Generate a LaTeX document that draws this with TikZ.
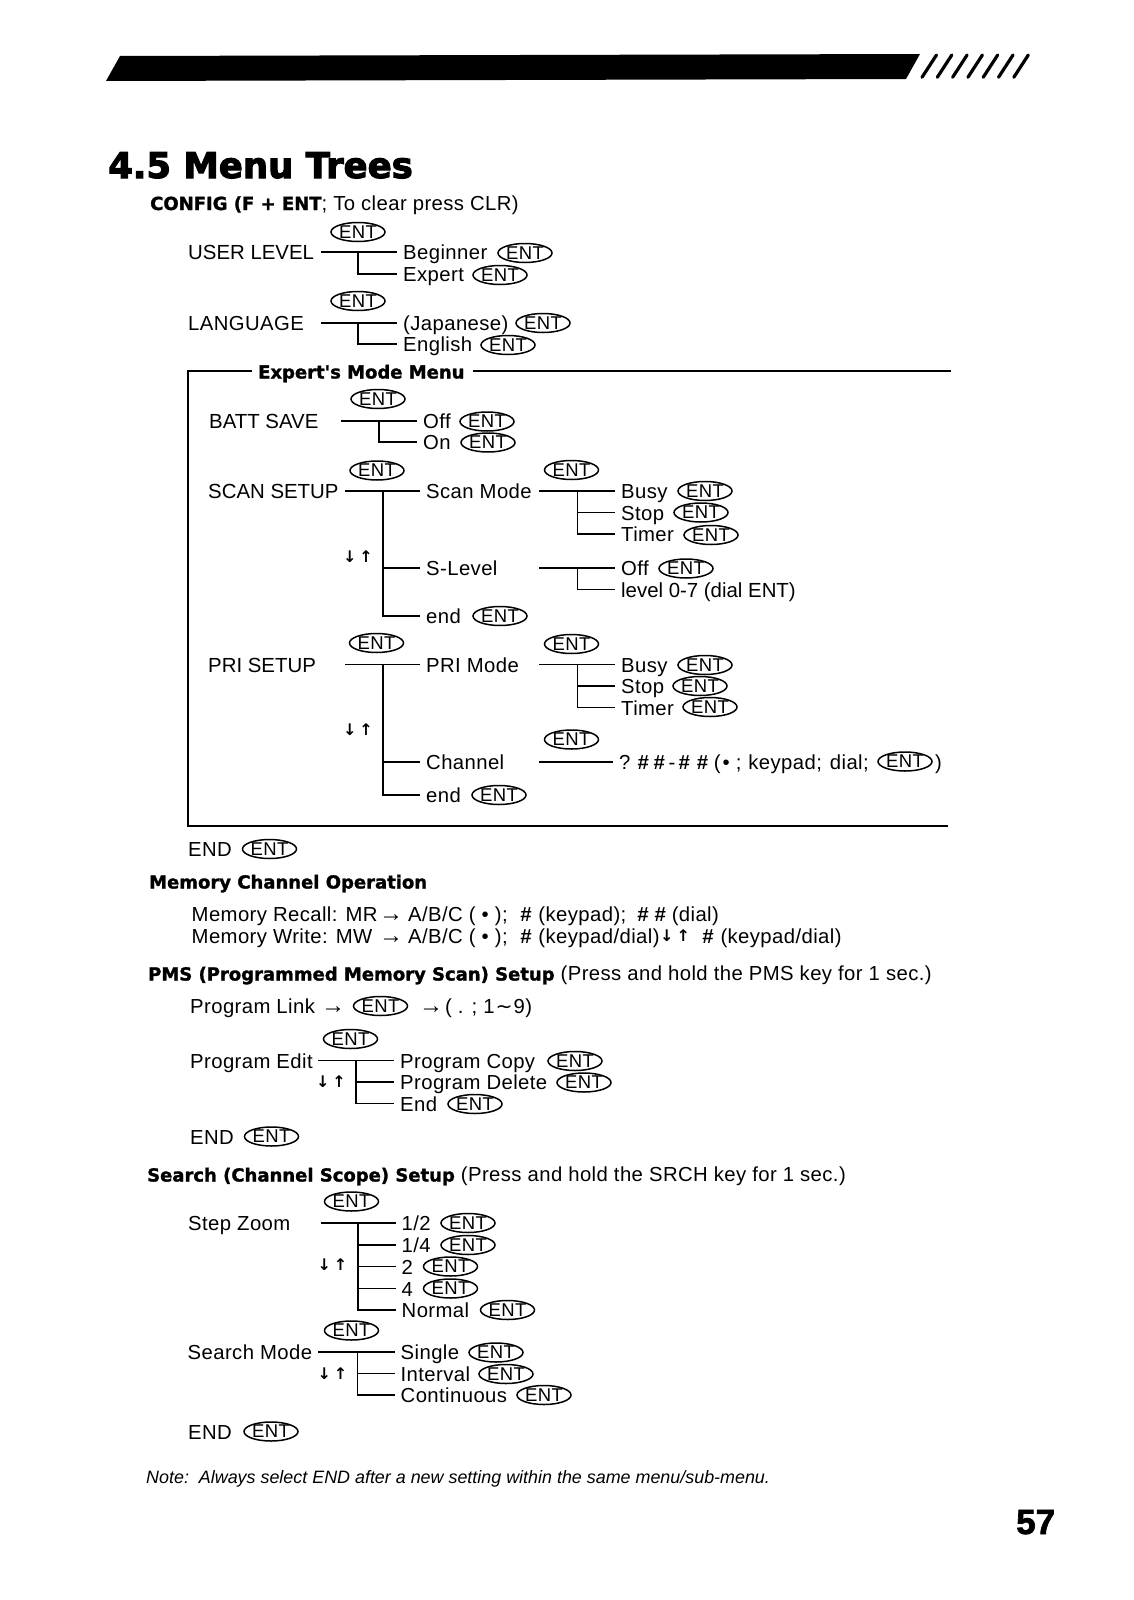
\documentclass[tikz,border=0pt]{standalone}
\usepackage{fontspec}
\usetikzlibrary{shapes.geometric}
\setmainfont{Liberation Sans}[LetterSpace=2]
\newfontfamily\headfamily{DejaVu Sans}
\newfontfamily\heavyfamily{DejaVu Sans Bold}[FakeBold=1.5]
\newfontfamily\titlefamily{DejaVu Sans Bold}[FakeBold=3]
\newfontfamily\pagefamily{Liberation Sans Bold}[FakeBold=2]
\newfontfamily\plainfamily{Liberation Sans}
\newcommand{\headbold}{\heavyfamily\fontsize{18}{22}\selectfont}
\newcommand{\hashkey}{{\bfseries\itshape\#}}
\newcommand{\rarrow}{{\fontsize{24}{24}\selectfont →}}

\begin{document}
\begin{tikzpicture}[x=1pt,y=-1pt,
		menutext/.style={anchor=west,inner sep=0pt,text height=15pt,text depth=0pt,font=\fontsize{20.3}{24}\selectfont},
		plaintext/.style={menutext,font=\plainfamily\fontsize{20.4}{24}\selectfont},
		entkey/.style={draw,ellipse,line width=1.5pt,inner sep=0pt,minimum width=54pt,minimum height=19pt,font=\fontsize{18.5}{20}\selectfont},
		treeline/.style={line width=1.5pt,shorten >=6pt},
		frameline/.style={line width=1.4pt},
		slashline/.style={line width=3.2pt,line cap=round},
		updown/.style={inner sep=0pt,font=\headfamily\bfseries\fontsize{16}{16}\selectfont},
	]
		\useasboundingbox (0,0) rectangle (1133,1600);
		% top band
		\fill (106,81) -- (120,56) -- (920,54) -- (906,79) -- cycle;
		\foreach \i in {0,...,6}
			\draw[slashline] ({922+15.3*\i},77.3) -- ({936.5+15.3*\i},55);
		\node[anchor=base west,inner sep=0pt,font=\titlefamily\fontsize{35.5}{40}\selectfont] (title) at (108,178) {4.5 Menu Trees};
		\node[anchor=base west,inner sep=0pt,font=\pagefamily\fontsize{35}{40}\selectfont] (pagenum) at (1016,1534) {57};

		% config
		\node[menutext] (confighead) at (150,202.5) {{\headbold CONFIG (F + ENT}; To clear press CLR)};
		\node[entkey] (entuser) at (358,232) {ENT};
		\node[plaintext] (userlevel) at (188,252) {USER LEVEL};
		\node[menutext] (beginner) at (403,252) {Beginner};
		\node[entkey] (entbeginner) at (525,253) {ENT};
		\node[menutext] (expert) at (403,274) {Expert};
		\node[entkey] (entexpert) at (500,275) {ENT};
		\coordinate (userjoint) at (358,252);
		\draw[treeline] ([xshift=133pt]userlevel.west) -- (beginner.west);
		\draw[treeline] (userjoint) |- (expert.west);

		\node[entkey] (entlang) at (358,301) {ENT};
		\node[menutext] (language) at (188,323) {LANGUAGE};
		\node[menutext] (japanese) at (403,323) {(Japanese)};
		\node[entkey] (entjapanese) at (543,323) {ENT};
		\node[menutext] (english) at (403,344) {English};
		\node[entkey] (entenglish) at (508,345) {ENT};
		\coordinate (langjoint) at (358,323);
		\draw[treeline] ([xshift=133pt]language.west) -- (japanese.west);
		\draw[treeline] (langjoint) |- (english.west);

		% frame of the expert menu
		\node[menutext,font=\headbold] (modehead) at (258,371) {Expert's Mode Menu};
		\coordinate (frameNW) at (188,371);
		\coordinate (frameSW) at (188,826);
		\coordinate (frameSE) at (948,826);
		\coordinate (frameNE) at (951,371);
		\draw[frameline,shorten <=6pt] (modehead.west) -- (frameNW) -- (frameSW) -- (frameSE);
		\draw[frameline,shorten <=8pt] (modehead.east) -- (frameNE);

		% batt save
		\node[entkey] (entbatt) at (378,399) {ENT};
		\node[plaintext] (battsave) at (209,421) {BATT SAVE};
		\node[menutext] (battoff) at (423,421) {Off};
		\node[entkey] (entbattoff) at (487,421.5) {ENT};
		\node[menutext] (batton) at (423,442) {On};
		\node[entkey] (entbatton) at (488,442.5) {ENT};
		\coordinate (battjoint) at (379,421);
		\draw[treeline] ([xshift=132pt]battsave.west) -- (battoff.west);
		\draw[treeline] (battjoint) |- (batton.west);

		% scan setup
		\node[entkey] (entscan) at (377,470.5) {ENT};
		\node[plaintext] (scansetup) at (208,491) {SCAN SETUP};
		\node[menutext] (scanmode) at (426,491) {Scan Mode};
		\node[menutext] (slevel) at (426,568) {S-Level};
		\node[menutext] (scanend) at (426,616) {end};
		\node[entkey] (entscanend) at (500,616) {ENT};
		\node[updown] (scanarrows) at (358,556.5) {↓\hspace{3pt}↑};
		\coordinate (scanjoint) at (383,491);
		\draw[treeline] ([xshift=137pt]scansetup.west) -- (scanmode.west);
		\draw[treeline] (scanjoint) |- (slevel.west);
		\draw[treeline] (scanjoint) |- (scanend.west);

		\node[entkey] (entscanmode) at (571.5,470) {ENT};
		\node[menutext] (scanbusy) at (621,491) {Busy};
		\node[entkey] (entscanbusy) at (705,491) {ENT};
		\node[menutext] (scanstop) at (621,512.5) {Stop};
		\node[entkey] (entscanstop) at (701,512.5) {ENT};
		\node[menutext] (scantimer) at (621,534) {Timer};
		\node[entkey] (entscantimer) at (711,535) {ENT};
		\coordinate (modejoint) at (577.5,491);
		\draw[treeline] ([xshift=113pt]scanmode.west) -- (scanbusy.west);
		\draw[treeline] (modejoint) |- (scanstop.west);
		\draw[treeline] (modejoint) |- (scantimer.west);

		\node[menutext] (leveloff) at (621,568) {Off};
		\node[entkey] (entleveloff) at (686,568.5) {ENT};
		\node[plaintext] (levelrange) at (621,589.5) {level 0-7 (dial ENT)};
		\coordinate (leveljoint) at (577.5,568);
		\draw[treeline] ([xshift=113pt]slevel.west) -- (leveloff.west);
		\draw[treeline] (leveljoint) |- (levelrange.west);

		% pri setup
		\node[entkey] (entpri) at (376.5,643) {ENT};
		\node[plaintext] (prisetup) at (208,664.5) {PRI SETUP};
		\node[menutext] (primode) at (426,664.5) {PRI Mode};
		\node[menutext] (channel) at (426,762) {Channel};
		\node[menutext] (priend) at (426,795) {end};
		\node[entkey] (entpriend) at (499,795) {ENT};
		\node[updown] (priarrows) at (358,729.5) {↓\hspace{3pt}↑};
		\coordinate (prijoint) at (383,664.5);
		\draw[treeline] ([xshift=137pt]prisetup.west) -- (primode.west);
		\draw[treeline] (prijoint) |- (channel.west);
		\draw[treeline] (prijoint) |- (priend.west);

		\node[entkey] (entprimode) at (571.5,644) {ENT};
		\node[menutext] (pribusy) at (621,664.5) {Busy};
		\node[entkey] (entpribusy) at (705,665) {ENT};
		\node[menutext] (pristop) at (621,686) {Stop};
		\node[entkey] (entpristop) at (700,686) {ENT};
		\node[menutext] (pritimer) at (621,707.5) {Timer};
		\node[entkey] (entpritimer) at (710,707) {ENT};
		\coordinate (primodejoint) at (577.5,664.5);
		\draw[treeline] ([xshift=113pt]primode.west) -- (pribusy.west);
		\draw[treeline] (primodejoint) |- (pristop.west);
		\draw[treeline] (primodejoint) |- (pritimer.west);

		\node[entkey] (entchannel) at (571.5,739.5) {ENT};
		\node[menutext] (chanentry) at (619,762) {?\hspace{7pt}\hashkey\hspace{4.5pt}\hashkey\hspace{4pt}-\hspace{3pt}\hashkey\hspace{7pt}\hashkey\hspace{6pt}(\hspace{2pt}•\hspace{6pt};\hspace{7pt}keypad;\hspace{8pt}dial;};
		\node[entkey] (entchanentry) at (905,761.5) {ENT};
		\node[menutext] (chanclose) at (935,762) {)};
		\draw[treeline] ([xshift=113pt]channel.west) -- (chanentry.west);

		\node[menutext] (endmode) at (188,849) {END};
		\node[entkey] (entendmode) at (269.5,849) {ENT};

		% memory channel
		\node[menutext,font=\headbold] (memoryhead) at (149,881) {Memory Channel Operation};
		\node[menutext] (recall) at (191.5,914) {Memory Recall: MR};
		\node[menutext] (recallbank) at (379,914) {\rarrow\hspace{5pt}A/B/C ( • );};
		\node[menutext] (recallkeypad) at (520,914) {\hashkey\hspace{7pt}(keypad);};
		\node[menutext] (recalldial) at (637,914) {\hashkey\hspace{6pt}\hashkey\hspace{6pt}(dial)};
		\node[menutext] (write) at (191.5,935.5) {Memory Write: MW};
		\node[menutext] (writebank) at (379,935.5) {\rarrow\hspace{5pt}A/B/C ( • );};
		\node[menutext] (writekeypad) at (520,935.5) {\hashkey\hspace{7pt}(keypad/dial)};
		\node[updown] (writearrows) at (675,935.5) {↓\hspace{3pt}↑};
		\node[menutext] (writedial) at (702,935.5) {\hashkey\hspace{7pt}(keypad/dial)};

		% pms
		\node[menutext] (pmshead) at (148,973) {{\headbold PMS (Programmed Memory Scan) Setup} (Press and hold the PMS key for 1 sec.)};
		\node[menutext] (proglink) at (190,1005.5) {Program Link \rarrow};
		\node[entkey] (entproglink) at (380.5,1006) {ENT};
		\node[menutext] (progrange) at (419,1005.5) {\rarrow\hspace{2pt}( . ; 1\hspace{1pt}{\headfamily ∼}\hspace{1pt}9)};

		\node[entkey] (entprogedit) at (350.5,1039) {ENT};
		\node[menutext] (progedit) at (190,1060.5) {Program Edit};
		\node[menutext] (progcopy) at (400,1060.5) {Program Copy};
		\node[entkey] (entprogcopy) at (575,1061) {ENT};
		\node[menutext] (progdelete) at (400,1082) {Program Delete};
		\node[entkey] (entprogdelete) at (584,1082.5) {ENT};
		\node[menutext] (progend) at (400,1103.5) {End};
		\node[entkey] (entprogend) at (475,1104) {ENT};
		\node[updown] (progarrows) at (331,1082) {↓\hspace{3pt}↑};
		\coordinate (progjoint) at (356,1060.5);
		\draw[treeline] ([xshift=128pt]progedit.west) -- (progcopy.west);
		\draw[treeline] (progjoint) |- (progdelete.west);
		\draw[treeline] (progjoint) |- (progend.west);

		\node[menutext] (endprog) at (190,1136.5) {END};
		\node[entkey] (entendprog) at (271.5,1136.5) {ENT};

		% search
		\node[menutext] (searchhead) at (147,1174) {{\headbold Search (Channel Scope) Setup} (Press and hold the SRCH key for 1 sec.)};

		\node[entkey] (entzoom) at (351.5,1201.5) {ENT};
		\node[menutext] (stepzoom) at (188,1223) {Step Zoom};
		\node[menutext] (zoomhalf) at (401.5,1223) {1/2};
		\node[entkey] (entzoomhalf) at (468,1223) {ENT};
		\node[menutext] (zoomquarter) at (401.5,1245) {1/4};
		\node[entkey] (entzoomquarter) at (468,1245) {ENT};
		\node[menutext] (zoomtwo) at (401.5,1266.5) {2};
		\node[entkey] (entzoomtwo) at (450.5,1266.5) {ENT};
		\node[menutext] (zoomfour) at (401.5,1288.5) {4};
		\node[entkey] (entzoomfour) at (450.5,1288.5) {ENT};
		\node[menutext] (zoomnormal) at (401.5,1310) {Normal};
		\node[entkey] (entzoomnormal) at (507.5,1310) {ENT};
		\node[updown] (zoomarrows) at (332.5,1265) {↓\hspace{3pt}↑};
		\coordinate (zoomjoint) at (358,1223);
		\draw[treeline] ([xshift=132.7pt]stepzoom.west) -- (zoomhalf.west);
		\draw[treeline] (zoomjoint) |- (zoomquarter.west);
		\draw[treeline] (zoomjoint) |- (zoomtwo.west);
		\draw[treeline] (zoomjoint) |- (zoomfour.west);
		\draw[treeline] (zoomjoint) |- (zoomnormal.west);

		\node[entkey] (entsearch) at (351.5,1330.5) {ENT};
		\node[menutext] (searchmode) at (187.5,1352) {Search Mode};
		\node[menutext] (single) at (400.5,1352) {Single};
		\node[entkey] (entsingle) at (496,1352.5) {ENT};
		\node[menutext] (interval) at (400.5,1373.5) {Interval};
		\node[entkey] (entinterval) at (506,1374) {ENT};
		\node[menutext] (continuous) at (400.5,1395) {Continuous};
		\node[entkey] (entcontinuous) at (544,1395) {ENT};
		\node[updown] (searcharrows) at (332.5,1374) {↓\hspace{3pt}↑};
		\coordinate (searchjoint) at (357.5,1352);
		\draw[treeline] ([xshift=130.5pt]searchmode.west) -- (single.west);
		\draw[treeline] (searchjoint) |- (interval.west);
		\draw[treeline] (searchjoint) |- (continuous.west);

		\node[menutext] (endsearch) at (188,1431.5) {END};
		\node[entkey] (entendsearch) at (271,1431.5) {ENT};

		\node[menutext,font=\plainfamily\itshape\fontsize{17.9}{22}\selectfont] (note) at (146,1476) {Note:\ \ Always select END after a new setting within the same menu/sub-menu.};
	\end{tikzpicture}
\end{document}
